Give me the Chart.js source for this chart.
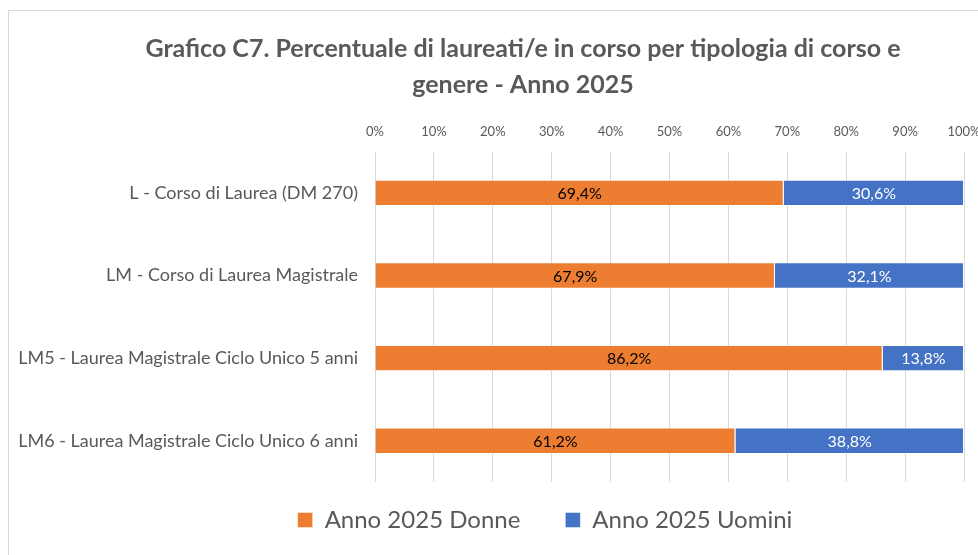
<!DOCTYPE html>
<html>
<head>
<meta charset="utf-8">
<script src="https://cdn.jsdelivr.net/npm/chart.js@4"></script>
<style>
  html, body { margin: 0; padding: 0; background: #fff; overflow: hidden; }
  #frame { position: absolute; left: 8px; top: 10px; width: 1200px; height: 800px; border: 1px solid #d9d9d9; }
  #wrap { position: absolute; left: 0; top: 0; width: 978px; height: 555px; }
</style>
</head>
<body>
<div id="frame"></div>
<div id="wrap"><canvas id="c7Graph"></canvas></div>
<script>
const categories = [
  'L - Corso di Laurea (DM 270)',
  'LM - Corso di Laurea Magistrale',
  'LM5 - Laurea Magistrale Ciclo Unico 5 anni',
  'LM6 - Laurea Magistrale Ciclo Unico 6 anni'
];
const donne = [69.4, 67.9, 86.2, 61.2];
const uomini = [30.6, 32.1, 13.8, 38.8];

const FONT = 'Lato, "Liberation Sans", sans-serif';
const GREY = '#595959';

// value labels inside bars
const barLabels = {
  id: 'barLabels',
  afterDatasetsDraw(chart) {
    const ctx = chart.ctx;
    ctx.save();
    ctx.font = '16px ' + FONT;
    ctx.textAlign = 'center';
    ctx.textBaseline = 'middle';
    chart.data.datasets.forEach((ds, i) => {
      chart.getDatasetMeta(i).data.forEach((bar, j) => {
        const txt = ds.data[j].toFixed(1).replace('.', ',') + '%';
        ctx.fillStyle = i === 0 ? '#000' : '#fff';
        ctx.fillText(txt, (bar.x + bar.base) / 2, bar.y + 1);
      });
    });
    ctx.restore();
  }
};

// title and legend are not centred on the same x in the original
const shiftBoxes = {
  id: 'shiftBoxes',
  afterLayout(chart) {
    const t = chart.titleBlock;
    t.left += 34; t.right += 34;
    const l = chart.legend;
    l.left += 56; l.right += 56;
    l.top -= 19; l.bottom -= 19;
  }
};

const ctxC7 = document.getElementById('c7Graph');

new Chart(ctxC7, {
  type: 'bar',
  data: {
    labels: categories,
    datasets: [{
      label: 'Anno 2025 Donne',
      data: donne,
      backgroundColor: '#ED7D31',
      borderColor: 'rgba(255,255,255,0.45)',
      borderWidth: 1
    }, {
      label: 'Anno 2025 Uomini',
      data: uomini,
      backgroundColor: '#4472C4',
      borderColor: 'rgba(255,255,255,0.45)',
      borderWidth: 1
    }]
  },
  options: {
    indexAxis: 'y',
    responsive: true,
    maintainAspectRatio: false,
    animation: false,
    datasets: {
      bar: { categoryPercentage: 1, barPercentage: 0.32 }
    },
    layout: { padding: { left: 0, right: 0, top: 12, bottom: 0 } },
    scales: {
      x: {
        position: 'top',
        stacked: true,
        min: 0,
        max: 100,
        ticks: {
          stepSize: 10,
          padding: 12,
          color: GREY,
          font: { family: FONT, size: 13 },
          callback: v => v + '%'
        },
        grid: { color: '#d9d9d9', drawTicks: false },
        border: { display: false },
        afterFit(scale) { scale.paddingRight = 14; }
      },
      y: {
        stacked: true,
        ticks: {
          padding: 17,
          color: GREY,
          font: { family: FONT, size: 18 }
        },
        grid: { display: false, drawTicks: false },
        border: { display: false },
        afterFit(scale) { scale.width = 375; }
      }
    },
    plugins: {
      title: {
        display: true,
        text: ['Grafico C7. Percentuale di laureati/e in corso per tipologia di corso e', 'genere - Anno 2025'],
        color: GREY,
        font: { family: FONT, size: 25, weight: 'bold', lineHeight: '36px' },
        padding: { top: 19, bottom: 9 }
      },
      legend: {
        position: 'bottom',
        maxHeight: 73,
        labels: {
          color: GREY,
          font: { family: FONT, size: 24 },
          boxWidth: 15,
          boxHeight: 15,
          padding: 45
        }
      },
      tooltip: { enabled: false }
    }
  },
  plugins: [barLabels, shiftBoxes]
});
</script>
</body>
</html>
